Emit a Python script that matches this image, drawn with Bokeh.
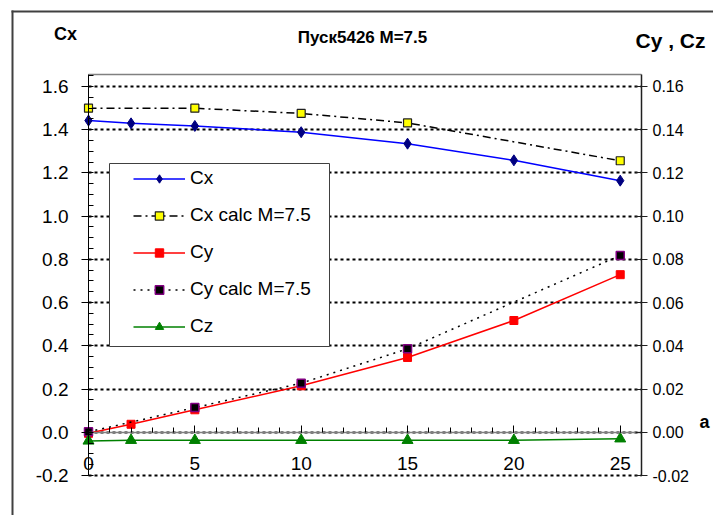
from bokeh.plotting import figure
from bokeh.models import (Range1d, LinearAxis, Legend, LegendItem, Label,
                          BoxAnnotation, SingleIntervalTicker, FixedTicker,
                          NumeralTickFormatter)
from bokeh.embed import file_html
from bokeh.resources import INLINE

FONT = "Liberation Sans"

# ---- data ----
alpha = [0, 2, 5, 10, 15, 20, 25]
cx = [1.442, 1.429, 1.417, 1.388, 1.335, 1.258, 1.164]
alpha_calc = [0, 5, 10, 15, 25]
cx_calc = [1.499, 1.499, 1.475, 1.431, 1.256]
cy = [-0.0005, 0.0037, 0.0104, 0.0215, 0.0346, 0.0517, 0.0729]
cy_calc = [0.0002, 0.0114, 0.0227, 0.0386, 0.0818]
cz = [-0.0040, -0.0037, -0.0037, -0.0037, -0.0037, -0.0037, -0.0030]

title_text = "Пуск5426 M=7.5"
left_title = "Cx"
right_title = "Cy , Cz"
x_title = "a"
names = ["Cx", "Cx calc M=7.5", "Cy", "Cy calc M=7.5", "Cz"]

# ---- axis extents ----
X0, X1 = 0, 26            # alpha axis
Y0, Y1 = -0.2, 1.655      # Cx axis
RK = 0.1                  # right axis = left axis * RK
W, H = 713, 515
PL, PT, PW, PH = 88, 74, 553, 401   # plot-area box in pixels

XS = (X1 - X0) / PW
YS = (Y1 - Y0) / PH

def px_x(px):
    return X0 + (px - PL) * XS

def px_y(py):
    return Y1 - (py - PT) * YS

p = figure(width=W, height=H,
           x_range=Range1d(px_x(0), px_x(W)), y_range=Range1d(px_y(H), px_y(0)),
           x_axis_location=None, y_axis_location=None,
           min_border_left=0, min_border_right=0,
           min_border_top=0, min_border_bottom=0,
           output_backend="svg", toolbar_location=None)
p.extra_y_ranges = {"right": Range1d(px_y(H) * RK, px_y(0) * RK)}
p.outline_line_color = None
p.background_fill_color = "white"
p.border_fill_color = "white"

# left axis (Cx)
ya = LinearAxis(ticker=SingleIntervalTicker(interval=0.2, num_minor_ticks=4),
                formatter=NumeralTickFormatter(format="0.0"),
                fixed_location=X0, bounds=(Y0, Y1))
ya.axis_line_color = "black"
ya.axis_line_width = 1
ya.major_tick_in = 0
ya.major_tick_out = 7
ya.minor_tick_in = 5
ya.minor_tick_out = 0
ya.major_tick_line_color = "black"
ya.minor_tick_line_color = "black"
ya.major_label_standoff = 13
ya.major_label_text_font = FONT
ya.major_label_text_font_size = "19px"
ya.major_label_text_color = "black"
p.add_layout(ya, "left")

# right axis (Cy, Cz)
ra = LinearAxis(y_range_name="right",
                ticker=SingleIntervalTicker(interval=0.02, num_minor_ticks=0),
                formatter=NumeralTickFormatter(format="0.00"),
                fixed_location=X1, bounds=(Y0 * RK, Y1 * RK))
ra.axis_line_color = "#202020"
ra.axis_line_width = 1.5
ra.major_tick_in = 6
ra.major_tick_out = 6
ra.minor_tick_line_color = None
ra.major_tick_line_color = "#202020"
ra.major_label_standoff = 5
ra.major_label_text_font = FONT
ra.major_label_text_font_size = "16px"
ra.major_label_text_color = "black"
p.add_layout(ra, "right")

# alpha axis placed at y = 0
xa = LinearAxis(ticker=SingleIntervalTicker(interval=5, num_minor_ticks=5),
                fixed_location=0, bounds=(X0, X1))
xa.axis_line_color = "#808080"
xa.axis_line_width = 1.5
xa.major_tick_in = 7
xa.major_tick_out = 0
xa.minor_tick_in = 5
xa.minor_tick_out = 0
xa.major_tick_line_color = "black"
xa.minor_tick_line_color = "black"
xa.major_label_standoff = 25
xa.major_label_text_font = FONT
xa.major_label_text_font_size = "19px"
xa.major_label_text_color = "black"
p.add_layout(xa, "below")

# top border of the plot area
ta = LinearAxis(ticker=FixedTicker(ticks=[]), fixed_location=Y1, bounds=(X0, X1))
ta.axis_line_color = "#808080"
ta.axis_line_width = 1.5
ta.major_tick_line_color = None
ta.minor_tick_line_color = None
ta.major_label_text_font_size = "0px"
p.add_layout(ta, "above")

# horizontal dotted grid
p.xgrid.visible = False
p.ygrid.ticker = ya.ticker
p.ygrid.grid_line_color = "black"
p.ygrid.grid_line_width = 2
p.ygrid.grid_line_dash = "3 3"
p.ygrid.bounds = (Y0, Y1)
try:
    p.ygrid.cross_bounds = (X0, X1)
except AttributeError:
    p.ygrid.visible = False
    gy = [Y0 + 0.2 * i for i in range(10)]
    p.segment(x0=[X0] * len(gy), x1=[X1] * len(gy), y0=gy, y1=gy,
              line_color="black", line_width=2, line_dash="3 3")

# ---- series ----
r_cx_l = p.line(alpha, cx, line_color="#0000FF", line_width=1.5)
r_cx_m = p.scatter(alpha, cx, marker="diamond", size=11, fill_color="#000080",
                   line_color="#000080")
r_cxc_l = p.line(alpha_calc, cx_calc, line_color="black", line_width=1.5,
                 line_dash="8 4 2 4")
r_cxc_m = p.scatter(alpha_calc, cx_calc, marker="square", size=8,
                    fill_color="#FFFF00", line_color="#202020", line_width=1.2)
r_cy_l = p.line(alpha, cy, line_color="#FF0000", line_width=1.5, y_range_name="right")
r_cy_m = p.scatter(alpha, cy, marker="square", size=8, fill_color="#FF0000",
                   line_color="#FF0000", y_range_name="right")
r_cyc_l = p.line(alpha_calc, cy_calc, line_color="black", line_width=1.5,
                 line_dash="2 5", y_range_name="right")
r_cyc_m = p.scatter(alpha_calc, cy_calc, marker="square", size=8, fill_color="black",
                    line_color="#800080", line_width=1.5, y_range_name="right")
r_cz_l = p.line(alpha, cz, line_color="#008000", line_width=1.5, y_range_name="right")
r_cz_m = p.scatter(alpha, cz, marker="triangle", size=11, fill_color="#008000",
                   line_color="#008000", y_range_name="right")

# ---- legend ----
p.add_layout(BoxAnnotation(left=px_x(109), right=px_x(329),
                           top=px_y(163), bottom=px_y(346),
                           fill_color="white", fill_alpha=1.0,
                           line_color="#404040", line_width=1, line_alpha=1.0))
items = [
    LegendItem(label=names[0], renderers=[r_cx_l, r_cx_m]),
    LegendItem(label=names[1], renderers=[r_cxc_l, r_cxc_m]),
    LegendItem(label=names[2], renderers=[r_cy_l, r_cy_m]),
    LegendItem(label=names[3], renderers=[r_cyc_l, r_cyc_m]),
    LegendItem(label=names[4], renderers=[r_cz_l, r_cz_m]),
]
legend = Legend(items=items, location=(133, H - 337), padding=0, margin=0,
                spacing=15, glyph_width=52, glyph_height=21, label_height=21,
                label_standoff=5, border_line_color=None,
                background_fill_alpha=0.0,
                label_text_font=FONT, label_text_font_size="19px",
                label_text_color="black")
p.add_layout(legend, "center")

# ---- outer chart border (left and top edges; the rest lies outside the view) ----
p.add_layout(BoxAnnotation(left=px_x(11), right=px_x(13), top=px_y(10), bottom=px_y(H),
                           fill_color="#404040", fill_alpha=1.0, line_color=None))
p.add_layout(BoxAnnotation(left=px_x(11), right=px_x(W), top=px_y(10), bottom=px_y(12),
                           fill_color="#404040", fill_alpha=1.0, line_color=None))

# ---- titles ----
def add_text(text, x, y, size, align="center", bold=True):
    p.add_layout(Label(x=x, y=H - y, x_units="screen", y_units="screen", text=text,
                       text_font=FONT, text_font_size=size,
                       text_font_style="bold" if bold else "normal",
                       text_align=align, text_baseline="middle",
                       text_color="black"))

add_text(left_title, 65, 33, "18px")
add_text(title_text, 362, 37, "17px")
add_text(right_title, 635, 40, "21px", align="left")
add_text(x_title, 699, 421, "18px", align="left")

open("out.html", "w").write(file_html(p, INLINE))
